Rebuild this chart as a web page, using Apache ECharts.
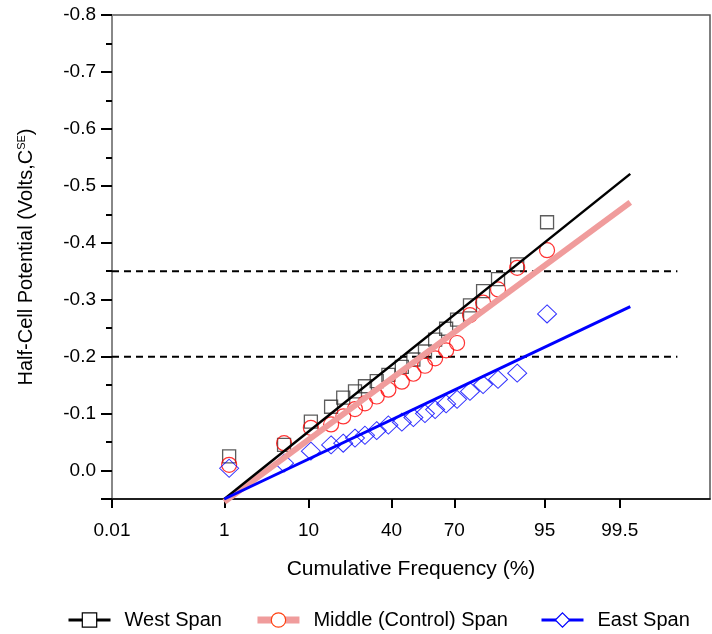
<!DOCTYPE html>
<html>
<head>
<meta charset="utf-8">
<script src="https://cdn.jsdelivr.net/npm/echarts@6/dist/echarts.min.js"></script>
<style>html,body{margin:0;padding:0;background:#fff}#c{width:712px;height:634px}</style>
</head>
<body>
<div id="c"></div>
<script>
// Cumulative frequency (%) of each plotted point
const freq = [1.17, 5.64, 10.5, 15.8, 19.7, 24.0, 28.0, 33.1, 38.5, 45.0, 50.7, 56.4, 61.3, 66.4, 71.2, 76.4, 81.1, 85.7, 90.4, 95.3];
// Half-cell potentials (V)
const westSpan   = [-0.025,-0.045,-0.086,-0.112,-0.128,-0.139,-0.148,-0.157,-0.168,-0.182,-0.195,-0.209,-0.230,-0.249,-0.265,-0.290,-0.315,-0.336,-0.362,-0.436];
const middleSpan = [-0.010,-0.048,-0.075,-0.081,-0.095,-0.108,-0.118,-0.130,-0.142,-0.156,-0.170,-0.184,-0.197,-0.211,-0.224,-0.273,-0.295,-0.318,-0.356,-0.387];
const eastSpan   = [-0.004,-0.013,-0.034,-0.045,-0.048,-0.057,-0.062,-0.070,-0.080,-0.085,-0.093,-0.100,-0.107,-0.117,-0.125,-0.139,-0.151,-0.160,-0.171,-0.275];
// Fitted lines (endpoints)
const fitFreq   = [1, 99.66];
const westFit   = [0.05, -0.521];
const middleFit = [0.055, -0.471];
const eastFit   = [0.05, -0.288];
// Threshold lines
const limitFreq = [0.01, 99.95];
const limitLow  = -0.2;
const limitHigh = -0.35;
// Axis
const xTicks = [0.01, 1, 10, 40, 70, 95, 99.5];
const xRange = [0.01, 99.989];

// inverse normal CDF (probability scale)
function probit(p) {
  const a=[-3.969683028665376e+01,2.209460984245205e+02,-2.759285104469687e+02,1.383577518672690e+02,-3.066479806614716e+01,2.506628277459239e+00];
  const b=[-5.447609879822406e+01,1.615858368580409e+02,-1.556989798598866e+02,6.680131188771972e+01,-1.328068155288572e+01];
  const c=[-7.784894002430293e-03,-3.223964580411365e-01,-2.400758277161838e+00,-2.549732539343734e+00,4.374664141464968e+00,2.938163982698783e+00];
  const d=[7.784695709041462e-03,3.224671290700398e-01,2.445134137142996e+00,3.754408661907416e+00];
  const pl=0.02425, ph=1-pl; let q,r;
  if (p<pl){q=Math.sqrt(-2*Math.log(p));return (((((c[0]*q+c[1])*q+c[2])*q+c[3])*q+c[4])*q+c[5])/((((d[0]*q+d[1])*q+d[2])*q+d[3])*q+1);}
  if (p<=ph){q=p-0.5;r=q*q;return (((((a[0]*r+a[1])*r+a[2])*r+a[3])*r+a[4])*r+a[5])*q/(((((b[0]*r+b[1])*r+b[2])*r+b[3])*r+b[4])*r+1);}
  q=Math.sqrt(-2*Math.log(1-p));return -(((((c[0]*q+c[1])*q+c[2])*q+c[3])*q+c[4])*q+c[5])/((((d[0]*q+d[1])*q+d[2])*q+d[3])*q+1);
}
const Z = pct => probit(pct/100);
const pts = vals => vals.map((v,i)=>[Z(freq[i]), v]);
const seg = (fs, vs) => fs.map((f,i)=>[Z(f), vs[i]]);

const FONT = 'Liberation Sans, Arial, sans-serif';
const tickZ = xTicks.map(Z);

const chart = echarts.init(document.getElementById('c'), null, {renderer:'canvas'});
chart.setOption({
  animation: false,
  grid: {left:112, right:2, top:15, bottom:135, show:true, borderColor:'#555', borderWidth:1.5, containLabel:false},
  legend: {
    top: 605, left: 62, itemWidth: 42, itemHeight: 18, itemGap: 32,
    textStyle: {fontFamily: FONT, fontSize: 20, color:'#000', padding:[0,0,0,9]},
    data: [
      {name:'West Span', itemStyle:{color:'#fff', borderColor:'#000', borderWidth:1.2}, lineStyle:{color:'#000', width:3}},
      {name:'Middle (Control) Span', itemStyle:{color:'#fff', borderColor:'#ff4010', borderWidth:1.2}, lineStyle:{color:'#f09c9c', width:7}},
      {name:'East Span', itemStyle:{color:'#fff', borderColor:'#0000ff', borderWidth:1.2}, lineStyle:{color:'#0000ff', width:3}}
    ]
  },
  xAxis: {
    type:'value', min: Z(xRange[0]), max: Z(xRange[1]),
    name:'Cumulative Frequency (%)', nameLocation:'middle', nameGap:60,
    nameTextStyle:{fontFamily:FONT, fontSize:21, color:'#000'},
    axisLine:{show:true, onZero:false, lineStyle:{color:'#000', width:1.5}},
    axisTick:{show:true, inside:false, length:9, lineStyle:{color:'#000', width:2}, customValues: tickZ},
    axisLabel:{fontFamily:FONT, fontSize:19, color:'#000', margin:22, customValues: tickZ,
      formatter: v => { let best=0; for (let i=1;i<tickZ.length;i++) if (Math.abs(tickZ[i]-v)<Math.abs(tickZ[best]-v)) best=i; return String(xTicks[best]); }},
    splitLine:{show:false}
  },
  yAxis: {
    type:'value', inverse:true, min:-0.8, max:0.05, interval:0.1,
    name:'{a|Half-Cell Potential (Volts,C}{s|SE}{a|)}', nameLocation:'middle', nameGap:75, nameRotate:90,
    nameTextStyle:{fontFamily:FONT, fontSize:20, color:'#000',
      rich:{a:{fontFamily:FONT, fontSize:20, color:'#000'}, s:{fontFamily:FONT, fontSize:11, color:'#000', verticalAlign:'top', padding:[0,0,10,0]}}},
    axisLine:{show:true, onZero:false, lineStyle:{color:'#888', width:2}},
    axisTick:{show:true, inside:false, length:11, lineStyle:{color:'#000', width:2}},
    minorTick:{show:true, splitNumber:2, length:6, lineStyle:{color:'#000', width:2}},
    axisLabel:{fontFamily:FONT, fontSize:19, color:'#000', margin:16,
      formatter: v => { if (v > 0.01) return ''; const r = Math.round(v*10)/10; return Math.abs(r)<1e-9 ? '0.0' : r.toFixed(1); }},
    splitLine:{show:false}
  },
  series: [
    {type:'scatter', name:'West pts', data: pts(westSpan), symbol:'rect', symbolSize:13, z:2,
      itemStyle:{color:'rgba(0,0,0,0)', borderColor:'#333', borderWidth:1.3}},
    {type:'scatter', name:'Middle pts', data: pts(middleSpan), symbol:'circle', symbolSize:15, z:2,
      itemStyle:{color:'rgba(0,0,0,0)', borderColor:'#ff0000', borderWidth:1.2}},
    {type:'scatter', name:'East pts', data: pts(eastSpan), symbol:'diamond', symbolSize:[19,18], z:2,
      itemStyle:{color:'rgba(0,0,0,0)', borderColor:'#0000ff', borderWidth:1}},
    {type:'line', name:'Middle (Control) Span', data: seg(fitFreq, middleFit), symbol:'circle', showSymbol:false, clip:false, z:3,
      itemStyle:{color:'#fff', borderColor:'#ff4010', borderWidth:1.2}, lineStyle:{color:'#f09c9c', width:6}},
    {type:'line', name:'West Span', data: seg(fitFreq, westFit), symbol:'rect', showSymbol:false, clip:false, z:4,
      itemStyle:{color:'#fff', borderColor:'#000', borderWidth:1.2}, lineStyle:{color:'#000', width:2.5}},
    {type:'line', name:'East Span', data: seg(fitFreq, eastFit), symbol:'diamond', showSymbol:false, clip:false, z:5,
      itemStyle:{color:'#fff', borderColor:'#0000ff', borderWidth:1.2}, lineStyle:{color:'#0000ff', width:3}},
    {type:'line', name:'limitHigh', data: seg(limitFreq, [limitHigh, limitHigh]), symbol:'none', silent:true, z:1,
      lineStyle:{color:'#000', width:2, type:[7,5]}},
    {type:'line', name:'limitLow', data: seg(limitFreq, [limitLow, limitLow]), symbol:'none', silent:true, z:1,
      lineStyle:{color:'#000', width:2, type:[7,5]}}
  ]
});
</script>
</body>
</html>
